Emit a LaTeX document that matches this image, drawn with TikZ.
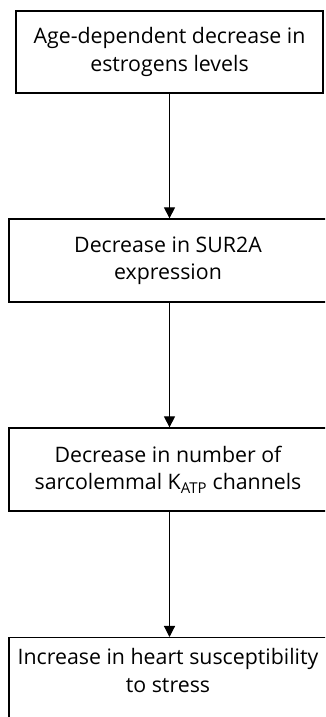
\documentclass[tikz,border=0pt]{standalone}
\usepackage{fontspec}
\setmainfont{Open Sans}
\usetikzlibrary{arrows.meta}
\tikzset{
  box/.style={draw, line width=1.1pt, align=center, inner sep=0pt,
    font=\fontsize{18.2}{23.5}\selectfont},
  arr/.style={line width=0.95pt, -{Triangle[length=9.4pt,width=9.4pt]}}
}
\begin{document}
\begin{tikzpicture}[x=0.03cm,y=-0.03cm]
\path[use as bounding box,clip] (0,0) rectangle (325,717);

\node[box, minimum width=9.21cm, minimum height=2.46cm] (age) at (169.5,52)
  {Age-dependent decrease in\\estrogens levels};
\node[box, minimum width=9.54cm, minimum height=2.49cm] (sur) at (168,260.5)
  {Decrease in SUR2A\\expression};
\node[box, minimum width=9.54cm, minimum height=2.49cm] (katp) at (168,469.5)
  {Decrease in number of\\sarcolemmal K\textsubscript{ATP} channels};
\node[box, minimum width=9.54cm, anchor=north, inner ysep=0.33cm, text depth=2cm] (heart) at (168,637)
  {Increase in heart susceptibility\\to stress};

\draw[arr] (age.south) -- (age.south |- sur.north);
\draw[arr] (age.south |- sur.south) -- (age.south |- katp.north);
\draw[arr] (age.south |- katp.south) -- (age.south |- heart.north);
\end{tikzpicture}
\end{document}
